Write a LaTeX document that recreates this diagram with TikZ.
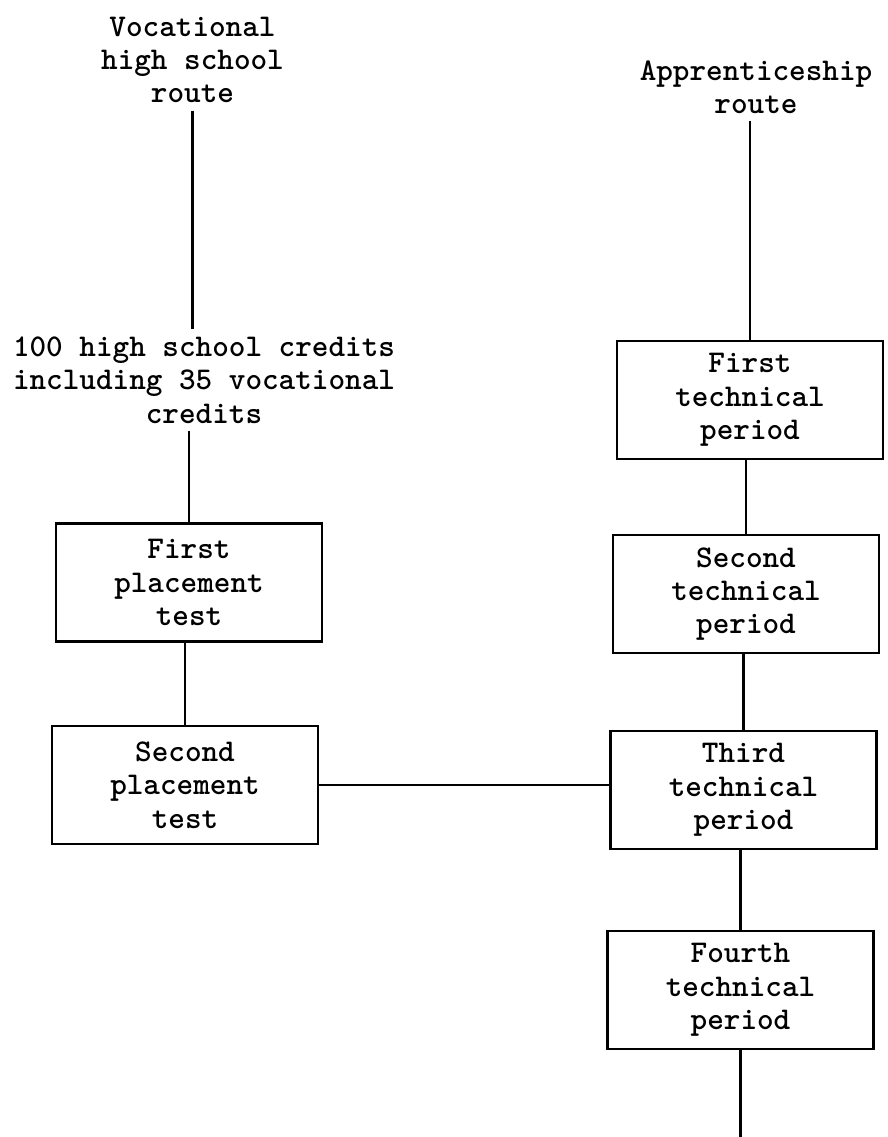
\documentclass[tikz,border=0pt]{standalone}
\usepackage{tikz}
\usetikzlibrary{positioning}

\begin{document}
\begin{tikzpicture}[
  route/.style={font=\ttfamily\bfseries\fontsize{18}{19}\selectfont,align=center,inner sep=4pt},
  stage/.style={draw,line width=1.5pt,minimum width=5.32cm,minimum height=2.36cm,align=center,font=\ttfamily\bfseries\fontsize{18}{19}\selectfont,inner sep=2pt},
  link/.style={draw,line width=1.6pt}
]
\useasboundingbox (0,0) rectangle (17.74,-22.74);

% vocational high school route
\node[route] (vhs) at (3.85,-1.2) {Vocational\\high school\\route};
\node[route] (credits) at (4.08,-7.6) {100 high school credits\\including 35 vocational\\credits};
\node[stage] (fpt) at (3.78,-11.65) {First\\placement\\test};
\node[stage] (spt) at (3.7,-15.7) {Second\\placement\\test};

% apprenticeship route
\node[route] (app) at (15.12,-1.74) {Apprenticeship\\route};
\node[stage] (ftp) at (15.0,-8.0) {First\\technical\\period};
\node[stage] (stp) at (14.92,-11.88) {Second\\technical\\period};
\node[stage] (ttp) at (14.87,-15.8) {Third\\technical\\period};
\node[stage] (fotp) at (14.81,-19.8) {Fourth\\technical\\period};
\coordinate (out) at (14.9,-22.74);

\draw[link] (vhs.south) -- (vhs.south |- credits.north);
\draw[link] (fpt.north |- credits.south) -- (fpt.north);
\draw[link] (spt.north |- fpt.south) -- (spt.north);
\draw[link] (spt.east) -- (spt.east -| ttp.west);

\draw[link] (ftp.north |- app.south) -- (ftp.north);
\draw[link] (stp.north |- ftp.south) -- (stp.north);
\draw[link] (ttp.north |- stp.south) -- (ttp.north);
\draw[link] (fotp.north |- ttp.south) -- (fotp.north);
\draw[link] (fotp.south) -- (fotp.south |- out);
\end{tikzpicture}
\end{document}
